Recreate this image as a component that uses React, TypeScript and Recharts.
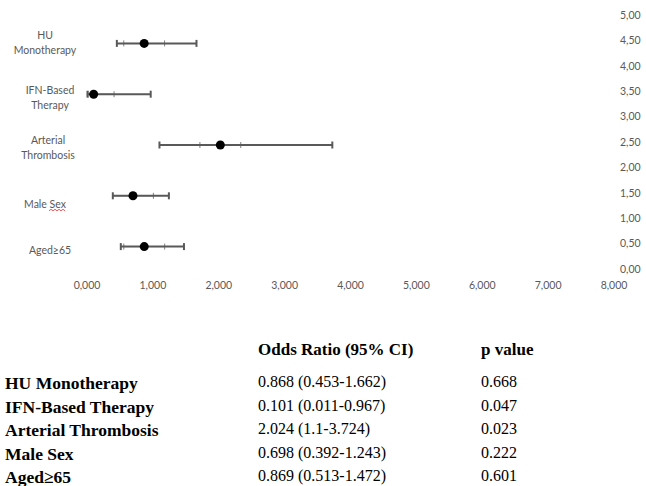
import { ScatterChart, Scatter, XAxis, YAxis, ErrorBar } from 'recharts'

const categories = ['HU Monotherapy', 'IFN-Based Therapy', 'Arterial Thrombosis', 'Male Sex', 'Aged≥65']
const chartLabels = [['HU', 'Monotherapy'], ['IFN-Based', 'Therapy'], ['Arterial', 'Thrombosis'], ['Male Sex'], ['Aged≥65']]
const rowPos = [4.5, 3.5, 2.5, 1.5, 0.5]
const oddsRatio = [0.868, 0.101, 2.024, 0.698, 0.869]
const ciLow = [0.453, 0.011, 1.1, 0.392, 0.513]
const ciHigh = [1.662, 0.967, 3.724, 1.243, 1.472]
// inner tick marks (distance from the point)
const seMinus = [0.31, 0.101, 0.31, 0.31, 0.31]
const sePlus = [0.31, 0.31, 0.31, 0.31, 0.31]
const pValues = ['0.668', '0.047', '0.023', '0.222', '0.601']
const xTicks = [0, 1, 2, 3, 4, 5, 6, 7, 8]
const yTicks = [0, 0.5, 1, 1.5, 2, 2.5, 3, 3.5, 4, 4.5, 5]
const tableHeader = ['Odds Ratio (95% CI)', 'p value']

const data = categories.map((c, i) => ({
  name: c,
  y: rowPos[i],
  or: oddsRatio[i],
  ci: [oddsRatio[i] - ciLow[i], ciHigh[i] - oddsRatio[i]],
  se: [seMinus[i], sePlus[i]],
}))

const AXIS_GREY = '#595959'
const AXIS_FONT = 'Lato, "Open Sans", sans-serif'
// the labels are loose text boxes in the original, not exactly on the rows
const LABEL_DY = [-4, 0, -1, 12, 7]
const LABEL_CX = [45, 50, 48, 45, 50]

const CategoryTick = ({ y, payload }: any) => {
  const idx = rowPos.indexOf(payload.value)
  if (idx < 0) return null
  const lines = chartLabels[idx]
  const cx = LABEL_CX[idx]
  const top = y + LABEL_DY[idx]
  return (
    <g>
      <text x={cx} y={top} textAnchor="middle" fill={AXIS_GREY} fontSize={10.5} fontFamily={AXIS_FONT}>
        {lines.map((l, k) => (
          <tspan key={k} x={cx} dy={k === 0 ? 0 : 15}>{l}</tspan>
        ))}
      </text>
      {idx === 3 && (
        <path
          d={`M${cx + 4} ${top + 3} l2 -1.5 l2 1.5 l2 -1.5 l2 1.5 l2 -1.5 l2 1.5 l2 -1.5 l2 1.5`}
          stroke="#e03030" strokeWidth={0.8} fill="none"
        />
      )}
    </g>
  )
}

const Dot = ({ cx, cy }: any) => <circle cx={cx} cy={cy} r={4.5} fill="#000" />
const Nothing = () => <g />

export default function App() {
  const serif = '"Liberation Serif", "Times New Roman", serif'
  return (
    <div style={{ position: 'absolute', left: 0, top: 0, width: 646, height: 486, background: '#fff' }}>
      <ScatterChart width={646} height={300} margin={{ top: 18, right: 0, bottom: 0, left: 0 }}>
        <XAxis
          type="number"
          dataKey="or"
          domain={[0, 8]}
          ticks={xTicks}
          axisLine={false}
          tickLine={false}
          tickMargin={4}
          height={28}
          tick={{ fill: AXIS_GREY, fontSize: 10.5, fontFamily: AXIS_FONT }}
          tickFormatter={(v: number) => v.toFixed(3).replace('.', ',')}
        />
        <YAxis
          yAxisId="left"
          type="number"
          dataKey="y"
          domain={[0, 5]}
          ticks={rowPos}
          axisLine={false}
          tickLine={false}
          width={87}
          tick={<CategoryTick />}
        />
        <YAxis
          yAxisId="right"
          orientation="right"
          type="number"
          dataKey="y"
          domain={[0, 5]}
          ticks={yTicks}
          axisLine={false}
          tickLine={false}
          tickMargin={0}
          width={32}
          tick={{ fill: AXIS_GREY, fontSize: 10.5, fontFamily: AXIS_FONT, dy: -3 }}
          tickFormatter={(v: number) => v.toFixed(2).replace('.', ',')}
        />
        <Scatter data={data} yAxisId="left" shape={<Nothing />} isAnimationActive={false} />
        <Scatter data={data} yAxisId="right" shape={<Dot />} isAnimationActive={false}>
          <ErrorBar dataKey="se" direction="x" width={3} strokeWidth={1} stroke="#7f7f7f" isAnimationActive={false} />
          <ErrorBar dataKey="ci" direction="x" width={3.5} strokeWidth={2} stroke={AXIS_GREY} isAnimationActive={false} />
        </Scatter>
      </ScatterChart>

      <div style={{ position: 'absolute', left: 0, top: 340, width: 646, fontFamily: serif, color: '#000' }}>
        <div style={{ position: 'relative', height: 33, fontWeight: 'bold', fontSize: 17 }}>
          <span style={{ position: 'absolute', left: 258 }}>{tableHeader[0]}</span>
          <span style={{ position: 'absolute', left: 481 }}>{tableHeader[1]}</span>
        </div>
        {categories.map((c, i) => (
          <div key={c} style={{ position: 'relative', height: 23.5 }}>
            <span style={{ position: 'absolute', left: 5, fontWeight: 'bold', fontSize: 17.5 }}>{c}</span>
            <span style={{ position: 'absolute', left: 258, fontSize: 16, top: 0 }}>
              {`${oddsRatio[i]} (${ciLow[i]}-${ciHigh[i]})`}
            </span>
            <span style={{ position: 'absolute', left: 481, fontSize: 16, top: 0 }}>{pValues[i]}</span>
          </div>
        ))}
      </div>
    </div>
  )
}
